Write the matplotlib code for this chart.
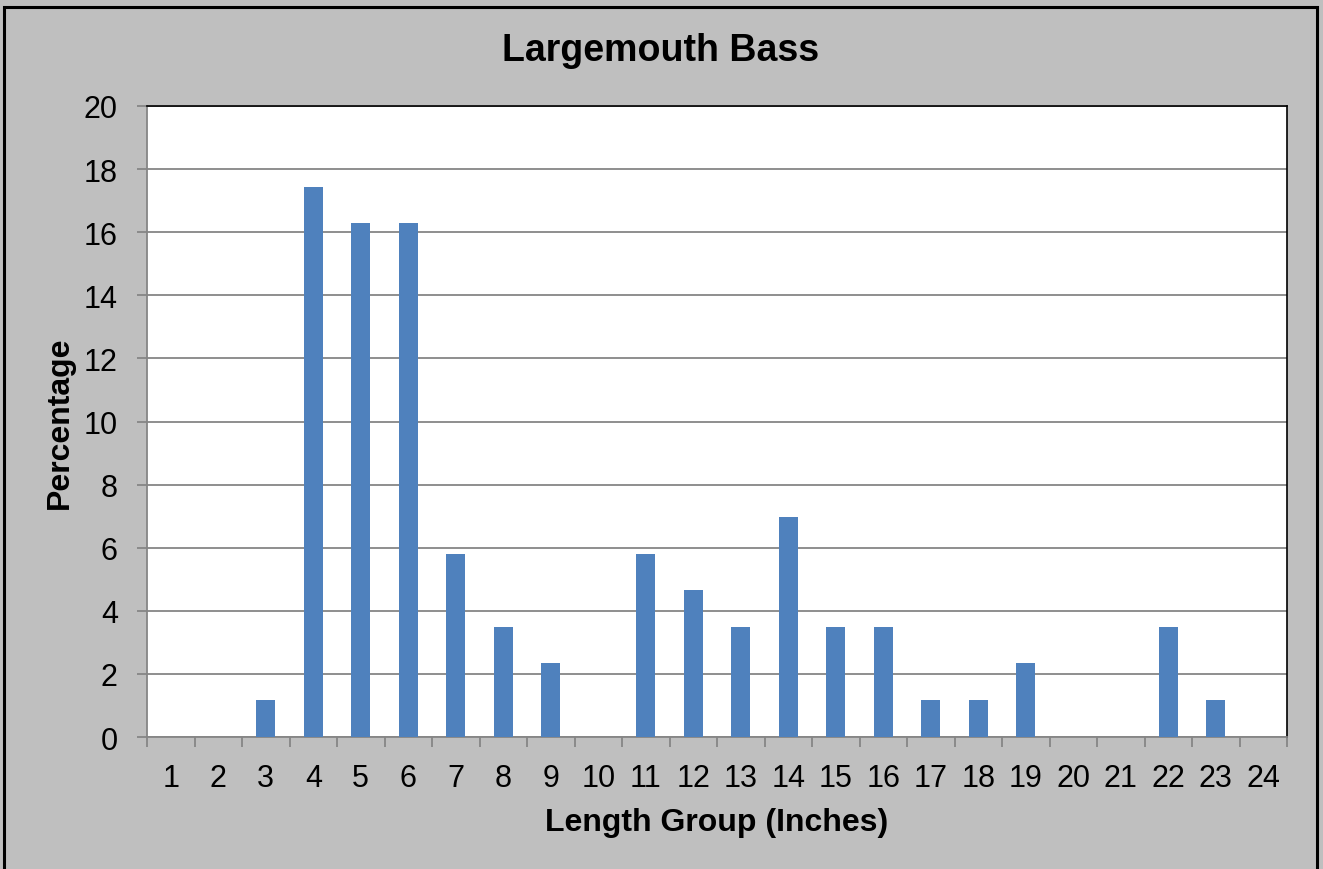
import matplotlib
matplotlib.use("Agg")
import matplotlib.pyplot as plt
from matplotlib.patches import Rectangle
import numpy as np

categories = [str(i) for i in range(1, 25)]
percentages = [0, 0, 1.16, 17.44, 16.28, 16.28, 5.81, 3.49, 2.33, 0, 5.81, 4.65,
               3.49, 6.98, 3.49, 3.49, 1.16, 1.16, 2.33, 0, 0, 3.49, 1.16, 0]
yticks = list(range(0, 21, 2))

W, H = 1323, 870
fig = plt.figure(figsize=(W / 100, H / 100), dpi=100, facecolor="#bfbfbf")
plt.rcParams['font.family'] = ['Liberation Sans', 'DejaVu Sans']

left, right, top, bottom = 147, 1287, 107, 738
ax = fig.add_axes([left / W, 1 - bottom / H, (right - left) / W, (bottom - top) / H])
ax.set_facecolor("white")

x = np.arange(len(categories))
ax.bar(x, percentages, width=0.4, color="#4f81bd", zorder=3)
ax.set_xlim(-0.5, len(categories) - 0.5)
ax.set_ylim(0, 20)
ax.set_yticks(yticks)
ax.set_yticklabels([str(t) for t in yticks], fontsize=22)
ax.yaxis.grid(True, color="#868686", linewidth=1.3, zorder=1)
ax.set_xticks(x)
ax.set_xticklabels(categories, fontsize=22)
ax.set_xticks(np.arange(-0.5, len(categories), 1), minor=True)
ax.tick_params(axis='x', which='major', length=0, pad=19)
ax.tick_params(axis='x', which='minor', length=7, width=1.3, color="#868686", direction='out')
ax.tick_params(axis='y', length=7, width=1.3, color="#868686", direction='out', pad=14)

for s in ['left', 'bottom']:
    ax.spines[s].set_color("#868686")
    ax.spines[s].set_linewidth(1.3)
for s in ['top', 'right']:
    ax.spines[s].set_color("black")
    ax.spines[s].set_linewidth(1.2)

fig.text(661 / W, 1 - 51 / H, "Largemouth Bass", ha='center', va='center',
         fontsize=27, fontweight='bold')
fig.text(717 / W, 1 - 823 / H, "Length Group (Inches)", ha='center', va='center',
         fontsize=23, fontweight='bold')
fig.text(60 / W, 1 - 423 / H, "Percentage", ha='center', va='center',
         fontsize=23, fontweight='bold', rotation=90)

fig.patches.append(Rectangle((4 / W, -0.01), (1317 - 4) / W, 1 - 8 / H + 0.01,
                             transform=fig.transFigure, fill=False,
                             edgecolor='black', linewidth=2.2))

fig.savefig("out.png", dpi=100, facecolor=fig.get_facecolor())
